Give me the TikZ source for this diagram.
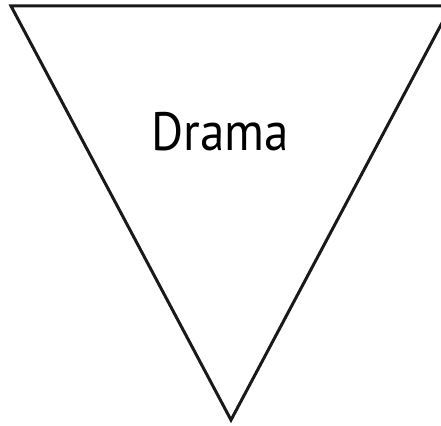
\documentclass[tikz,border=0pt]{standalone}
\usepackage{fontspec}
\setmainfont{PT Sans}
\begin{document}
\begin{tikzpicture}[x=1pt,y=-1pt,
    funnel/.style={draw=black!90, line width=3pt, line join=miter},
    genre/.style={font=\fontsize{54}{60}\selectfont, inner sep=0pt, xscale=0.91}
  ]
  \clip (0,0) rectangle (441,425);
  \coordinate (TL) at (11,6);
  \coordinate (TR) at (451,6);
  \coordinate (B) at (231,420);
  \draw[funnel] (TL) -- (TR) -- (B) -- cycle;
  \node[genre] (drama) at (220,132) {Drama};
\end{tikzpicture}
\end{document}
